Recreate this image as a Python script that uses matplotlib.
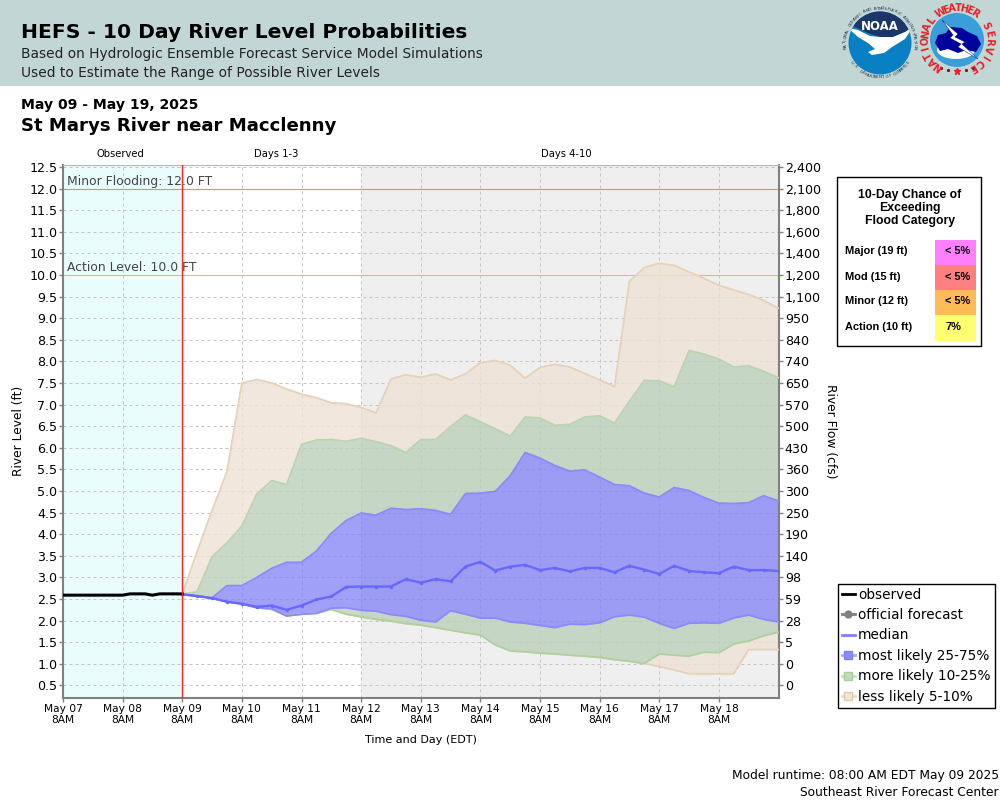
#!/usr/bin/env python3
# -*- coding: utf-8 -*-
"""
HEFS 10 day river level probabilities, St Marys River near Macclenny
"""
import numpy as np
import pandas as pd
import matplotlib
matplotlib.use('Agg')
import matplotlib.pyplot as plt
from matplotlib.lines import Line2D
from matplotlib.patches import Circle, Ellipse, Polygon, Rectangle

# observed stage, every 3 hours from May 07 8AM
obs_level = [2.59, 2.59, 2.59, 2.59, 2.59, 2.59, 2.59, 2.59, 2.59,
             2.62, 2.62, 2.62, 2.59, 2.62, 2.62, 2.62, 2.62]

# forecast percentiles, every 6 hours from May 09 8AM
median = [2.61, 2.57, 2.52, 2.44, 2.39, 2.32, 2.35, 2.25, 2.35, 2.49, 2.56, 2.78, 2.79, 2.79,
          2.79, 2.96, 2.88, 2.96, 2.91, 3.25, 3.36, 3.16, 3.25, 3.29, 3.17, 3.22, 3.14, 3.22,
          3.22, 3.12, 3.27, 3.18, 3.08, 3.27, 3.15, 3.12, 3.10, 3.25, 3.17, 3.17, 3.15]
p75 = [2.61, 2.57, 2.53, 2.81, 2.81, 3.00, 3.21, 3.35, 3.35, 3.61, 4.02, 4.32, 4.49, 4.44,
       4.60, 4.57, 4.59, 4.55, 4.46, 4.94, 4.95, 4.99, 5.35, 5.89, 5.76, 5.59, 5.46, 5.49,
       5.32, 5.15, 5.12, 4.95, 4.86, 5.08, 5.01, 4.85, 4.72, 4.71, 4.73, 4.89, 4.77]
p25 = [2.61, 2.57, 2.52, 2.44, 2.39, 2.30, 2.28, 2.11, 2.15, 2.17, 2.29, 2.30, 2.24, 2.22,
       2.14, 2.10, 2.01, 1.97, 2.23, 2.15, 2.06, 2.06, 1.97, 1.94, 1.89, 1.84, 1.92, 1.91,
       1.95, 2.09, 2.13, 2.08, 1.94, 1.82, 1.94, 1.95, 1.94, 2.06, 2.13, 2.03, 1.97]
p90 = [2.61, 2.67, 3.48, 3.80, 4.19, 4.93, 5.24, 5.15, 6.08, 6.18, 6.19, 6.15, 6.22, 6.14,
       6.05, 5.89, 6.19, 6.19, 6.49, 6.76, 6.60, 6.44, 6.27, 6.71, 6.69, 6.52, 6.54, 6.71,
       6.74, 6.57, 7.08, 7.56, 7.55, 7.41, 8.25, 8.17, 8.05, 7.87, 7.90, 7.77, 7.62]
p10 = [2.61, 2.57, 2.52, 2.44, 2.39, 2.30, 2.26, 2.11, 2.15, 2.17, 2.26, 2.15, 2.09, 2.03,
       1.99, 1.93, 1.90, 1.84, 1.78, 1.72, 1.67, 1.44, 1.30, 1.28, 1.25, 1.23, 1.20, 1.18,
       1.15, 1.10, 1.06, 1.01, 1.23, 1.20, 1.18, 1.27, 1.26, 1.46, 1.53, 1.65, 1.73]
p95 = [2.61, 3.60, 4.55, 5.45, 7.50, 7.58, 7.50, 7.36, 7.24, 7.16, 7.04, 7.02, 6.93, 6.81,
       7.59, 7.69, 7.63, 7.71, 7.57, 7.71, 7.97, 8.02, 7.91, 7.61, 7.86, 7.93, 7.87, 7.72,
       7.57, 7.42, 9.85, 10.17, 10.27, 10.22, 10.07, 9.92, 9.76, 9.65, 9.55, 9.41, 9.23]
p05 = [2.61, 2.57, 2.52, 2.44, 2.39, 2.30, 2.26, 2.11, 2.15, 2.17, 2.26, 2.15, 2.09, 2.03,
       1.99, 1.93, 1.90, 1.84, 1.78, 1.72, 1.67, 1.44, 1.30, 1.28, 1.25, 1.23, 1.20, 1.18,
       1.15, 1.10, 1.06, 1.01, 0.94, 0.86, 0.77, 0.77, 0.77, 0.77, 1.33, 1.33, 1.33]

level_ticks = [0.5, 1.0, 1.5, 2.0, 2.5, 3.0, 3.5, 4.0, 4.5, 5.0, 5.5, 6.0, 6.5,
               7.0, 7.5, 8.0, 8.5, 9.0, 9.5, 10.0, 10.5, 11.0, 11.5, 12.0, 12.5]
flow_labels = ['0', '0', '5', '28', '59', '98', '140', '190', '250', '300', '360', '430', '500',
               '570', '650', '740', '840', '950', '1,100', '1,200', '1,400', '1,600', '1,800',
               '2,100', '2,400']
day_labels = ['May 07', 'May 08', 'May 09', 'May 10', 'May 11', 'May 12',
              'May 13', 'May 14', 'May 15', 'May 16', 'May 17', 'May 18']

flood_cats = ['Major (19 ft)', 'Mod (15 ft)', 'Minor (12 ft)', 'Action (10 ft)']
flood_chance = ['< 5%', '< 5%', '< 5%', '7%']
flood_colors = ['#ff80ff', '#ff8080', '#ffbb55', '#ffff70']

obs_times = pd.date_range('2025-05-07 08:00', periods=len(obs_level), freq='3h')
fc_times = pd.date_range('2025-05-09 08:00', periods=len(median), freq='6h')
day_ticks = pd.date_range('2025-05-07 08:00', periods=len(day_labels), freq='D')

TAN = '#eee2d4'
GREEN = '#bcd0ba'
BLUE = '#8080f8'
HEADER = '#c2d7d5'

fig = plt.figure(figsize=(10, 8), dpi=100)
ax = fig.add_axes([0.063, 1 - 697.5 / 800, 0.7155, 532.5 / 800])

# shaded periods
ax.axvspan(pd.Timestamp('2025-05-07 08:00'), pd.Timestamp('2025-05-09 08:00'), color='#e9fdfd', lw=0, zorder=0)
ax.axvspan(pd.Timestamp('2025-05-12 08:00'), pd.Timestamp('2025-05-19 08:00'), color='#efefef', lw=0, zorder=0)

# bands
ax.fill_between(fc_times, p90, p95, color=TAN, alpha=0.8, lw=0, zorder=2)
ax.fill_between(fc_times, p05, p10, color=TAN, alpha=0.8, lw=0, zorder=2)
ax.fill_between(fc_times, p75, p90, color=GREEN, alpha=0.8, lw=0, zorder=2)
ax.fill_between(fc_times, p10, p25, color=GREEN, alpha=0.8, lw=0, zorder=2)
ax.fill_between(fc_times, p25, p75, color=BLUE, alpha=0.75, lw=0, zorder=2)
ax.plot(fc_times, p95, color='#e6d2ba', lw=1.3, zorder=3)
ax.plot(fc_times, p05, color='#e6d2ba', lw=1.3, zorder=3)
ax.plot(fc_times, p90, color='#bcd3b0', lw=1.3, zorder=3)
ax.plot(fc_times, p10, color='#aed09e', lw=1.3, zorder=3)
ax.plot(fc_times, p75, color='#8a8afa', lw=1.3, zorder=4)
ax.plot(fc_times, p25, color='#8a8afa', lw=1.3, zorder=4)
ax.plot(fc_times, median, color='#6868ff', lw=1.7, marker='o', ms=1.5, zorder=5)
ax.plot(obs_times, obs_level, color='black', lw=2.2, zorder=6)

# thresholds and now line
ax.axhline(12.0, color='#ff9326', lw=0.85, zorder=1.5)
ax.axhline(10.0, color='#f5c030', lw=0.8, zorder=1.5)
ax.axvline(pd.Timestamp('2025-05-09 08:00'), color='#ff2020', lw=1, zorder=7)
ax.annotate('Minor Flooding: 12.0 FT', (0, 12.0), xycoords=('axes fraction', 'data'), xytext=(3, 0.5),
            textcoords='offset points', fontsize=8.9, color='#444444', va='bottom', zorder=8)
ax.annotate('Action Level: 10.0 FT', (0, 10.0), xycoords=('axes fraction', 'data'), xytext=(3, 0.5),
            textcoords='offset points', fontsize=8.9, color='#444444', va='bottom', zorder=8)

ax.set_xlim(pd.Timestamp('2025-05-07 08:00'), pd.Timestamp('2025-05-19 08:00'))
ax.set_ylim(0.222, 12.544)
ax.set_yticks(level_ticks)
ax.set_yticklabels([f'{v:.1f}' for v in level_ticks], fontsize=9.1)
ax.set_xticks(day_ticks)
ax.set_xticklabels([d + '\n8AM' for d in day_labels], fontsize=7.7, linespacing=1.1)
ax.set_ylabel('River Level (ft)', fontsize=8.8)
ax.set_xlabel('Time and Day (EDT)', fontsize=8)
ax.xaxis.labelpad = 7
ax.yaxis.labelpad = 3
ax.grid(True, color='#c4c4c4', lw=0.72, ls=(0, (3, 3)))
ax.set_axisbelow(True)
ax.tick_params(axis='y', length=3, color='#808080', width=1, pad=1)
ax.tick_params(axis='x', length=3, color='#808080', width=1, pad=2)
for side in ['left', 'bottom', 'right']:
    ax.spines[side].set_color('#808080')
    ax.spines[side].set_linewidth(1.5)
ax.spines['top'].set_color('#b8b8b8')

ax2 = ax.twinx()
ax2.set_ylim(ax.get_ylim())
ax2.set_yticks(level_ticks)
ax2.set_yticklabels(flow_labels, fontsize=9.1)
ax2.tick_params(axis='y', length=3, color='#808080', width=1, pad=1.5)
ax2.set_ylabel('River Flow (cfs)', fontsize=8.8, rotation=270, labelpad=12)
for s in ax2.spines.values():
    s.set_visible(False)

# everything outside the plot goes on a pixel overlay
ov = fig.add_axes([0, 0, 1, 1], zorder=-1)
ov.set_xlim(0, 1000)
ov.set_ylim(800, 0)
ov.axis('off')
ov.add_patch(Rectangle((0, 0), 1000, 85.5, color=HEADER, lw=0))
ov.text(21, 33, 'HEFS - 10 Day River Level Probabilities', fontsize=14.6, fontweight='bold', va='center')
ov.text(21, 54, 'Based on Hydrologic Ensemble Forecast Service Model Simulations', fontsize=9.9, va='center', color='#222222')
ov.text(21, 73, 'Used to Estimate the Range of Possible River Levels', fontsize=9.9, va='center', color='#222222')
ov.text(21, 105, 'May 09 - May 19, 2025', fontsize=10.1, fontweight='bold', va='center')
ov.text(21, 126, 'St Marys River near Macclenny', fontsize=13.1, fontweight='bold', va='center')
ov.text(120.5, 154, 'Observed', fontsize=7.2, ha='center', va='center')
ov.text(276.5, 154, 'Days 1-3', fontsize=7.2, ha='center', va='center')
ov.text(566.5, 154, 'Days 4-10', fontsize=7.2, ha='center', va='center')
ov.text(999, 776, 'Model runtime: 08:00 AM EDT May 09 2025', fontsize=8.8, ha='right', va='center')
ov.text(999, 792, 'Southeast River Forecast Center', fontsize=8.8, ha='right', va='center')

# flood category box
ov.add_patch(Rectangle((836.5, 176.5), 144, 169, fc='white', ec='black', lw=1))
for line, y in zip(['10-Day Chance of', 'Exceeding', 'Flood Category'], [195, 208, 221]):
    ov.text(910, y, line, family='Liberation Sans', fontsize=8.8, fontweight='bold', ha='center', va='center')
for i, (cat, pct, col) in enumerate(zip(flood_cats, flood_chance, flood_colors)):
    top = 240 + 25 * i
    ov.add_patch(Rectangle((935, top), 41, 25 if i < 3 else 26, color=col, lw=0))
    ov.text(845, top + 11.5, cat, family='Liberation Sans', fontsize=7.9, fontweight='bold', va='center')
    ov.text(945, top + 11.5, pct, family='Liberation Sans', fontsize=7.9, fontweight='bold', va='center')


def ring_text(axs, text, cx, cy, r, a0, a1, bottom=False, **kw):
    for ch, a in zip(text, np.linspace(a0, a1, len(text))):
        rad = np.deg2rad(a)
        rot = a + 90 if bottom else a - 90
        axs.text(cx + r * np.cos(rad), cy - r * np.sin(rad), ch, rotation=rot,
                 rotation_mode='anchor', ha='center', va='center', **kw)


# NOAA logo
cx, cy = 880, 43
disk = Circle((cx, cy), 31.5, fc='#0a80c4', ec='none')
ov.add_patch(disk)
navy = Polygon([(848, 8), (912, 8), (912, 27), (905, 32), (893, 37), (880, 37), (868, 33), (855, 27), (848, 24)],
               fc='#1c3668', ec='none')
ov.add_patch(navy)
navy.set_clip_path(disk)
bird = Polygon([(848, 28), (858, 30), (870, 36), (880, 37), (893, 37), (905, 32), (913, 27), (905, 39), (892, 47),
                (884, 53), (872, 55), (868, 52), (875, 49), (868, 43), (858, 37)], fc='white', ec='none')
ov.add_patch(bird)
bird.set_clip_path(disk)
ov.text(880, 26, 'NOAA', color='white', fontsize=8.5, fontweight='bold', ha='center', va='center')
ring_text(ov, 'NATIONAL OCEANIC AND ATMOSPHERIC ADMINISTRATION', cx, cy, 34.5, 188, -8, fontsize=3, color='#1c2c48')
ring_text(ov, 'U.S. DEPARTMENT OF COMMERCE', cx, cy, 34.5, 215, 325, bottom=True, fontsize=3, color='#1c2c48')

# NWS logo
cx, cy = 957, 40
ov.add_patch(Circle((cx, cy), 27, fc='#3a9fd8', ec='none'))
ov.add_patch(Ellipse((cx - 1, cy + 10), 38, 18, fc='white', ec='none'))
ov.add_patch(Polygon([(935, 43), (938, 35), (946, 33), (950, 27), (962, 28), (968, 32), (977, 36), (981, 44),
                      (976, 52), (966, 50), (958, 53), (948, 49), (940, 51)], fc='#00009a', ec='none'))
ov.add_patch(Polygon([(942, 20), (958, 34), (955, 37), (965, 42), (962, 44), (978, 59), (958, 47), (961, 44),
                      (950, 38), (953, 35)], fc='white', ec='#00009a', lw=0.3))
ring_text(ov, 'NATIONAL', cx, cy, 32, 234, 144, fontsize=7, fontweight='bold', color='#e8202a')
ring_text(ov, 'WEATHER', cx, cy, 32, 120, 56, fontsize=7, fontweight='bold', color='#e8202a')
ring_text(ov, 'SERVICE', cx, cy, 32, 26, -60, fontsize=7, fontweight='bold', color='#e8202a')
ov.plot([cx], [cy + 31], marker='*', ms=5, color='#e8202a', lw=0)
ov.plot([cx - 16, cx - 9, cx + 9, cx + 16], [cy + 28, cy + 30, cy + 30, cy + 28], 'o', ms=1.3, color='#7a1030')

# legend
handles = [
    Line2D([], [], color='black', lw=2),
    Line2D([], [], color='#808080', lw=2, marker='o', ms=5),
    Line2D([], [], color='#8080ff', lw=2),
    Line2D([], [], color='#a8a8ff', lw=2, marker='s', ms=6, mfc='#8c8cfa', mec='#8080ff'),
    Line2D([], [], color='#c4e0bc', lw=2, marker='s', ms=6, mfc='#bfdcb4', mec='#a8cc9c'),
    Line2D([], [], color='#ecdcc8', lw=2, marker='s', ms=6, mfc='#f2e6d8', mec='#e0c8aa'),
]
labels = ['observed', 'official forecast', 'median', 'most likely 25-75%', 'more likely 10-25%', 'less likely 5-10%']
leg = fig.legend(handles, labels, loc='upper left', bbox_to_anchor=(0.8375, 1 - 583.5 / 800), fontsize=9.85,
                 frameon=True, fancybox=False, framealpha=1, edgecolor='black', borderpad=0.3,
                 labelspacing=0.47, handlelength=1.0, handletextpad=0.2, borderaxespad=0, facecolor='white')
leg.get_frame().set_linewidth(1)

fig.savefig('out.png', dpi=100)
